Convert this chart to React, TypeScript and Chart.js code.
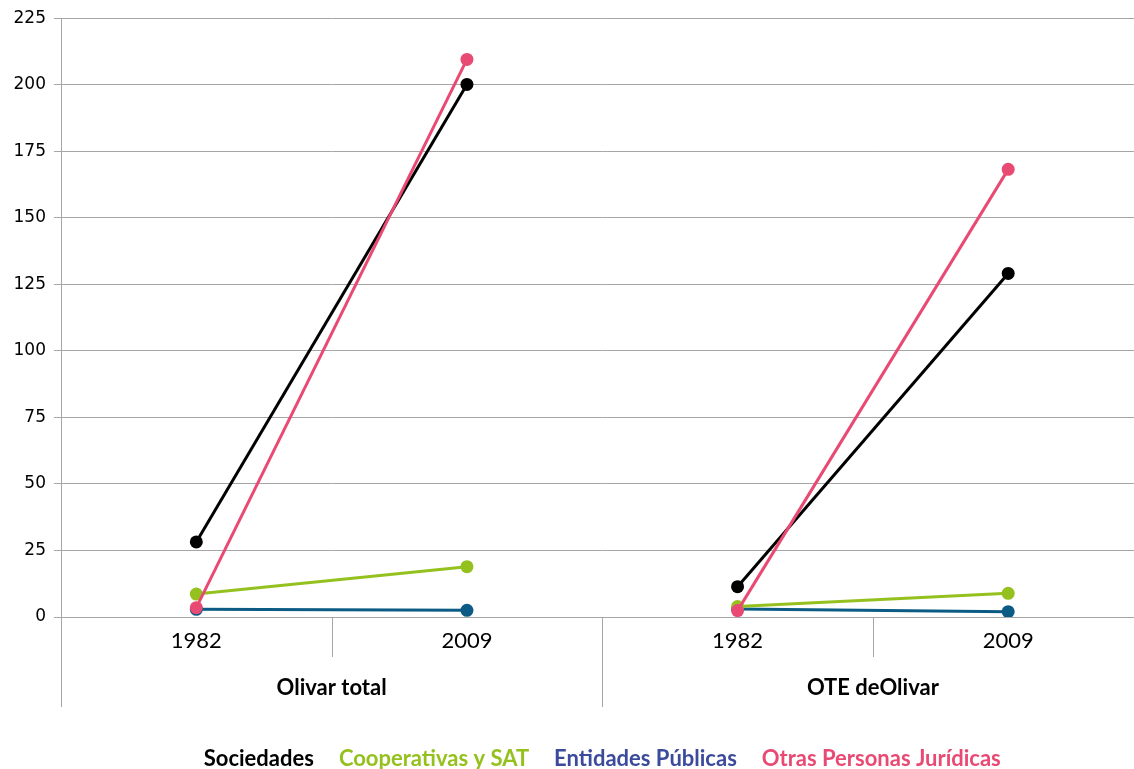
import { useEffect, useRef } from "react";
import { Chart, registerables } from "chart.js";

Chart.register(...registerables);

const categories = ["1982", "2009", "1982", "2009"];
const groups = ["Olivar total", "OTE deOlivar"];
const sociedades = [28.2, 200.1, 11.4, 129.1];
const cooperativas = [8.6, 18.9, 3.9, 8.9];
const entidades = [2.9, 2.5, 3.0, 2.0];
const otras = [3.5, 209.5, 2.4, 168.2];
const seriesNames = ["Sociedades", "Cooperativas y SAT", "Entidades Públicas", "Otras Personas Jurídicas"];
const lineColors = ["#000000", "#95c11f", "#0b5b85", "#e84a73"];
const legendColors = ["#000000", "#95c11f", "#3c4a9c", "#e84a73"];
const yMin = 0;
const yMax = 225;
const yStep = 25;

const GRID = "#a6a6a6";

const decorPlugin = {
  id: "decor",
  afterDraw(chart: any) {
    const { ctx, chartArea } = chart;
    const xs = chart.scales.x;
    const n = categories.length;
    const w = (xs.right - xs.left) / n;
    ctx.save();
    ctx.strokeStyle = GRID;
    ctx.lineWidth = 1;
    for (let i = 0; i <= n; i++) {
      const bx = Math.round(xs.left + i * w) + 0.5;
      const bottom = i % 2 === 0 ? 707 : 657;
      ctx.beginPath();
      ctx.moveTo(bx, chartArea.bottom);
      ctx.lineTo(bx, bottom);
      ctx.stroke();
    }
    // group labels
    ctx.fillStyle = "#000";
    ctx.font = "bold 22px Lato";
    ctx.textAlign = "center";
    ctx.textBaseline = "middle";
    groups.forEach((g, gi) => {
      const cx = xs.left + (2 * gi + 1) * w;
      ctx.fillText(g, cx, 688);
    });
    // legend
    ctx.font = "bold 22px Lato";
    ctx.textAlign = "left";
    const gap = 25;
    const widths = seriesNames.map((s) => ctx.measureText(s).width);
    const total = widths.reduce((a, b) => a + b, 0) + gap * (seriesNames.length - 1);
    let lx = (chartArea.left + chartArea.right) / 2 - total / 2;
    seriesNames.forEach((s, i) => {
      ctx.fillStyle = legendColors[i];
      ctx.fillText(s, lx, 759);
      lx += widths[i] + gap;
    });
    ctx.restore();
  },
};

export default function App() {
  const ref = useRef<HTMLCanvasElement | null>(null);
  useEffect(() => {
    if (!ref.current) return;
    const seriesData = [sociedades, cooperativas, entidades, otras];
    const orders = [1, 2, 3, 0];
    const chart = new Chart(ref.current, {
      type: "line",
      data: {
        labels: categories,
        datasets: seriesData.map((d, i) => ({
          label: seriesNames[i],
          data: d,
          borderColor: lineColors[i],
          backgroundColor: lineColors[i],
          pointBackgroundColor: lineColors[i],
          pointBorderColor: lineColors[i],
          pointBorderWidth: 0,
          pointRadius: 6.5,
          borderWidth: 3,
          order: orders[i],
          segment: {
            borderColor: (c: any) => (c.p0DataIndex === 1 ? "rgba(0,0,0,0)" : undefined),
          },
        })),
      },
      options: {
        responsive: false,
        animation: false,
        layout: { padding: { top: 17, right: 4, bottom: 0, left: 0 } },
        plugins: { legend: { display: false }, tooltip: { enabled: false } },
        scales: {
          x: {
            offset: true,
            grid: { display: false, drawTicks: false },
            border: { display: false },
            ticks: { font: { family: "Lato", size: 22 }, color: "#000", padding: 11 },
            afterFit: (s: any) => {
              s.height = 152;
            },
          },
          y: {
            min: yMin,
            max: yMax,
            ticks: { stepSize: yStep, font: { family: "DejaVu Sans", size: 17 }, color: "#000", padding: 8 },
            grid: { color: GRID, tickLength: 7, lineWidth: 1 },
            border: { color: GRID, width: 1 },
            afterFit: (s: any) => {
              s.width = 61;
            },
          },
        },
      },
      plugins: [decorPlugin],
    });
    return () => chart.destroy();
  }, []);
  return (
    <div style={{ position: "absolute", left: 0, top: 0, width: 1134, height: 769, overflow: "hidden", background: "#fff" }}>
      <canvas ref={ref} width={1150} height={769} />
    </div>
  );
}
